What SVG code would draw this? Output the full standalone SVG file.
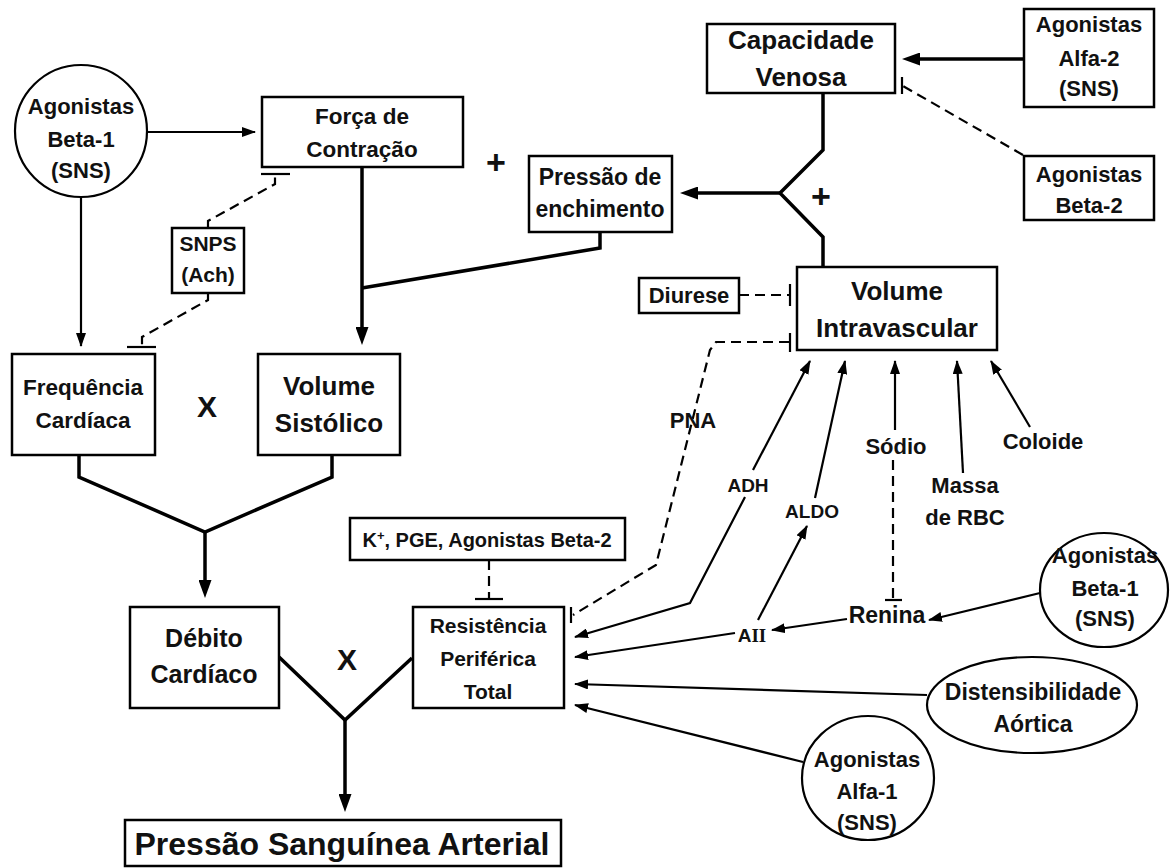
<svg xmlns="http://www.w3.org/2000/svg" width="1172" height="868" viewBox="0 0 1172 868">
<defs>
<style>
.bx{fill:#fff;stroke:#000;stroke-width:2.5}
.el{fill:#fff;stroke:#000;stroke-width:2.2}
.t{font-family:"Liberation Sans",Arial,sans-serif;font-weight:bold;text-anchor:middle;fill:#111}
.thk{fill:none;stroke:#000;stroke-width:3.5}
.thn{fill:none;stroke:#000;stroke-width:2.2}
.dsh{fill:none;stroke:#000;stroke-width:2.2;stroke-dasharray:10 6}
.bar{stroke:#000;stroke-width:2.2}
</style>
<marker id="ah" markerUnits="userSpaceOnUse" viewBox="0 0 14 10" markerWidth="14" markerHeight="10" refX="13" refY="5" orient="auto"><path d="M0,0 L14,5 L0,10 z" fill="#000"/></marker>
<marker id="ahb" markerUnits="userSpaceOnUse" viewBox="0 0 18 13" markerWidth="18" markerHeight="13" refX="10" refY="6.5" orient="auto"><path d="M0,0 L18,6.5 L0,13 z" fill="#000"/></marker>
</defs>
<rect width="1172" height="868" fill="#fff"/>

<g id="connectors">
<line class="thn" x1="147" y1="132" x2="255" y2="132" marker-end="url(#ah)"/>
<line class="thn" x1="81" y1="197" x2="81" y2="346" marker-end="url(#ah)"/>
<path class="dsh" d="M208,228 L208,221 L275,184 L275,175"/>
<line class="bar" x1="261" y1="174" x2="290" y2="174"/>
<path class="dsh" d="M208,293 L208,300 L142,337 L142,346"/>
<line class="bar" x1="127" y1="347" x2="156" y2="347"/>
<line class="thk" x1="362" y1="167" x2="362" y2="337" marker-end="url(#ahb)"/>
<polyline class="thk" points="600,232 600,248 362,288"/>
<polyline class="thk" points="823,93 823,150 780,193 823,237 823,267"/>
<line class="thk" x1="780" y1="193" x2="688" y2="193" marker-end="url(#ahb)"/>
<line class="thk" x1="1024" y1="59" x2="910" y2="59" marker-end="url(#ahb)"/>
<line class="dsh" x1="1023" y1="155" x2="903" y2="86"/>
<line class="bar" x1="902" y1="77" x2="902" y2="94"/>
<polyline class="thk" points="79,455 79,477 205,532 332,477 332,455"/>
<line class="thk" x1="205" y1="532" x2="205" y2="590" marker-end="url(#ahb)"/>
<polyline class="thk" points="279,657 345,720 412,658"/>
<line class="thk" x1="345" y1="720" x2="345" y2="804" marker-end="url(#ahb)"/>
<line class="dsh" x1="489" y1="560" x2="489" y2="598"/>
<line class="bar" x1="475" y1="599" x2="503" y2="599"/>
<path class="dsh" d="M789,342 L716,342 L710,350 L656,565 L573,615"/>
<line class="bar" x1="790" y1="333" x2="790" y2="352"/>
<line class="bar" x1="571" y1="607" x2="571" y2="623"/>
<line class="dsh" x1="739" y1="295" x2="789" y2="295"/>
<line class="bar" x1="790" y1="284" x2="790" y2="306"/>
<path class="thn" d="M745,497 L690,603 L575,637" marker-end="url(#ah)"/>
<line class="thn" x1="753" y1="470" x2="810" y2="361" marker-end="url(#ah)"/>
<line class="thn" x1="815" y1="498" x2="845" y2="361" marker-end="url(#ah)"/>
<line class="thn" x1="758" y1="620" x2="807" y2="526" marker-end="url(#ah)"/>
<line class="thn" x1="895" y1="430" x2="895" y2="361" marker-end="url(#ah)"/>
<line class="dsh" x1="893" y1="460" x2="893" y2="599"/>
<line class="bar" x1="885" y1="600" x2="902" y2="600"/>
<line class="thn" x1="963" y1="473" x2="957" y2="361" marker-end="url(#ah)"/>
<line class="thn" x1="1030" y1="427" x2="991" y2="361" marker-end="url(#ah)"/>
<line class="thn" x1="1040" y1="593" x2="929" y2="620" marker-end="url(#ah)"/>
<line class="thn" x1="847" y1="619" x2="772" y2="630" marker-end="url(#ah)"/>
<line class="thn" x1="735" y1="633" x2="575" y2="657" marker-end="url(#ah)"/>
<line class="thn" x1="927" y1="695" x2="575" y2="684" marker-end="url(#ah)"/>
<line class="thn" x1="803" y1="762" x2="575" y2="705" marker-end="url(#ah)"/>
</g>

<g id="beta1-top">
<circle class="el" cx="81" cy="131" r="66"/>
<text class="t" font-size="22" x="81" y="114">Agonistas</text>
<text class="t" font-size="22" x="81" y="147">Beta-1</text>
<text class="t" font-size="22" x="81" y="178">(SNS)</text>
</g>
<g id="forca">
<rect class="bx" x="262" y="97" width="201" height="70"/>
<text class="t" font-size="22.5" x="362" y="124">Força de</text>
<text class="t" font-size="22.5" x="362" y="157">Contração</text>
</g>
<g id="plus1"><text class="t" font-size="34" x="496" y="174">+</text></g>
<g id="snps">
<rect class="bx" x="172" y="228" width="72" height="65"/>
<text class="t" font-size="21" x="208" y="251">SNPS</text>
<text class="t" font-size="21" x="208" y="282">(Ach)</text>
</g>
<g id="freq">
<rect class="bx" x="12" y="354" width="143" height="101"/>
<text class="t" font-size="22.5" x="83" y="395">Frequência</text>
<text class="t" font-size="22.5" x="83" y="428">Cardíaca</text>
</g>
<g id="times1"><text class="t" font-size="30" x="207" y="417">X</text></g>
<g id="volsist">
<rect class="bx" x="258" y="354" width="142" height="101"/>
<text class="t" font-size="26" x="329" y="395">Volume</text>
<text class="t" font-size="26" x="329" y="432">Sistólico</text>
</g>
<g id="debito">
<rect class="bx" x="130" y="607" width="149" height="101"/>
<text class="t" font-size="25" x="204" y="647">Débito</text>
<text class="t" font-size="25" x="204" y="683">Cardíaco</text>
</g>
<g id="times2"><text class="t" font-size="30" x="347" y="670">X</text></g>
<g id="kpge">
<rect class="bx" x="350" y="518" width="275" height="42"/>
<text class="t" font-size="20" x="487" y="547">K<tspan font-size="13" dy="-7">+</tspan><tspan dy="7">, PGE, Agonistas Beta-2</tspan></text>
</g>
<g id="rpt">
<rect class="bx" x="413" y="607" width="151" height="101"/>
<text class="t" font-size="21" x="488" y="633">Resistência</text>
<text class="t" font-size="21" x="488" y="666">Periférica</text>
<text class="t" font-size="21" x="488" y="699">Total</text>
</g>
<g id="psa">
<rect class="bx" x="125" y="820" width="436" height="46"/>
<text class="t" font-size="32" x="342" y="855">Pressão Sanguínea Arterial</text>
</g>
<g id="penchimento">
<rect class="bx" x="529" y="156" width="143" height="76"/>
<text class="t" font-size="23" x="600" y="185">Pressão de</text>
<text class="t" font-size="23" x="600" y="217">enchimento</text>
</g>
<g id="capvenosa">
<rect class="bx" x="707" y="24" width="188" height="69"/>
<text class="t" font-size="26" x="801" y="49">Capacidade</text>
<text class="t" font-size="26" x="801" y="86">Venosa</text>
</g>
<g id="plus2"><text class="t" font-size="34" x="821" y="208">+</text></g>
<g id="alfa2">
<rect class="bx" x="1024" y="9" width="130" height="98"/>
<text class="t" font-size="22" x="1089" y="32">Agonistas</text>
<text class="t" font-size="22" x="1089" y="66">Alfa-2</text>
<text class="t" font-size="22" x="1089" y="96">(SNS)</text>
</g>
<g id="beta2">
<rect class="bx" x="1024" y="156" width="130" height="64"/>
<text class="t" font-size="22" x="1089" y="182">Agonistas</text>
<text class="t" font-size="22" x="1089" y="213">Beta-2</text>
</g>
<g id="volintra">
<rect class="bx" x="797" y="267" width="200" height="83"/>
<text class="t" font-size="26" x="897" y="300">Volume</text>
<text class="t" font-size="26" x="897" y="337">Intravascular</text>
</g>
<g id="diurese">
<rect class="bx" x="639" y="278" width="100" height="35"/>
<text class="t" font-size="22" x="689" y="303">Diurese</text>
</g>
<g id="pna"><text class="t" font-size="22" x="693" y="428">PNA</text></g>
<g id="adh"><text class="t" font-size="19" x="748" y="492">ADH</text></g>
<g id="aldo"><text class="t" font-size="19" x="812" y="518">ALDO</text></g>
<g id="sodio"><text class="t" font-size="22" x="896" y="454">Sódio</text></g>
<g id="massa">
<text class="t" font-size="22" x="965" y="493">Massa</text>
<text class="t" font-size="22" x="965" y="525">de RBC</text>
</g>
<g id="coloide"><text class="t" font-size="22" x="1043" y="449">Coloide</text></g>
<g id="renina"><text class="t" font-size="23" x="887" y="623">Renina</text></g>
<g id="aii"><text class="t" font-size="19" x="752" y="642">A<tspan font-family="'Liberation Serif',serif">II</tspan></text></g>
<g id="beta1-right">
<ellipse class="el" cx="1104" cy="590" rx="64" ry="57"/>
<text class="t" font-size="22" x="1105" y="563">Agonistas</text>
<text class="t" font-size="22" x="1105" y="596">Beta-1</text>
<text class="t" font-size="22" x="1105" y="626">(SNS)</text>
</g>
<g id="distens">
<ellipse class="el" cx="1032" cy="705" rx="105" ry="48"/>
<text class="t" font-size="23" x="1033" y="700">Distensibilidade</text>
<text class="t" font-size="23" x="1033" y="732">Aórtica</text>
</g>
<g id="alfa1">
<ellipse class="el" cx="868" cy="778" rx="66" ry="62"/>
<text class="t" font-size="22" x="867" y="767">Agonistas</text>
<text class="t" font-size="22" x="867" y="799">Alfa-1</text>
<text class="t" font-size="22" x="867" y="830">(SNS)</text>
</g>
</svg>
